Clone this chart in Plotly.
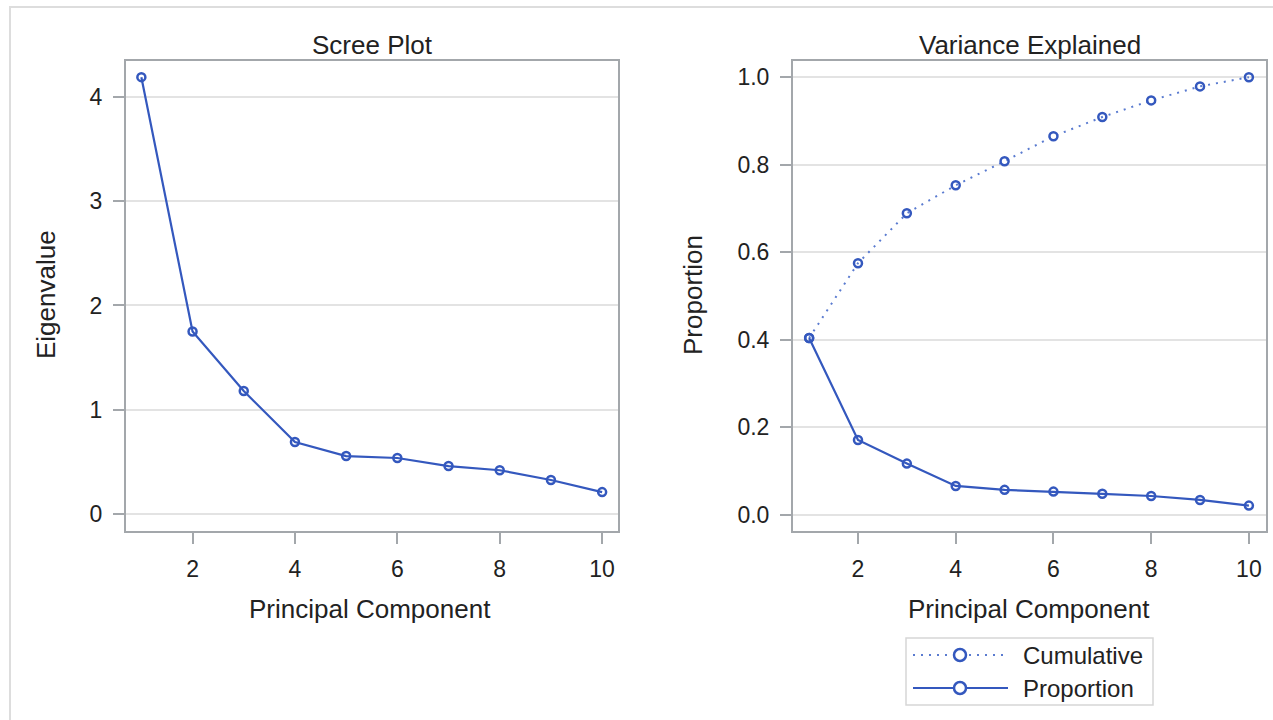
import plotly.graph_objects as go

components = [1, 2, 3, 4, 5, 6, 7, 8, 9, 10]
eigenvalues = [4.19, 1.75, 1.18, 0.69, 0.556, 0.537, 0.46, 0.42, 0.326, 0.21]
proportion = [0.404, 0.171, 0.117, 0.066, 0.057, 0.053, 0.048, 0.043, 0.034, 0.021]
cumulative = [0.404, 0.575, 0.689, 0.753, 0.808, 0.865, 0.909, 0.947, 0.979, 1.0]
x_ticks = [2, 4, 6, 8, 10]
eig_ticks = [0, 1, 2, 3, 4]
prop_ticks = [0.0, 0.2, 0.4, 0.6, 0.8, 1.0]

W, H = 1273, 720
BLUE = "#3458BE"
FRAME = "#A3A7AB"
GRID = "#E3E3E3"
FONT = "Liberation Sans, Arial, sans-serif"
TXT = "#222222"

def px(x):
    return x / W

def py(y):
    return (H - y) / H

fig = go.Figure()

marker = dict(symbol="circle-open", size=8, color=BLUE, line=dict(width=2.5, color=BLUE))

fig.add_trace(go.Scatter(x=components, y=eigenvalues, mode="lines+markers",
                         line=dict(color=BLUE, width=2.2), marker=marker,
                         xaxis="x", yaxis="y", showlegend=False))
fig.add_trace(go.Scatter(x=components, y=cumulative, mode="lines+markers",
                         line=dict(color="#5A7BD0", width=2, dash="2px,6px"), marker=marker,
                         xaxis="x2", yaxis="y2", name="Cumulative", showlegend=False))
fig.add_trace(go.Scatter(x=components, y=proportion, mode="lines+markers",
                         line=dict(color=BLUE, width=2.2), marker=marker,
                         xaxis="x2", yaxis="y2", name="Proportion", showlegend=False))

axis_common = dict(showline=True, mirror=True, linecolor=FRAME, linewidth=2,
                   ticks="outside", ticklen=11, tickwidth=2, tickcolor=FRAME,
                   tickfont=dict(family=FONT, size=23, color=TXT), zeroline=False)

ydom = [py(531), py(61)]
fig.update_layout(
    width=W, height=H,
    margin=dict(l=0, r=0, t=0, b=0),
    paper_bgcolor="white", plot_bgcolor="white",
    showlegend=False,
    xaxis=dict(domain=[px(126), px(618)], range=[0.7, 10.31], tickvals=x_ticks,
               showgrid=False, anchor="y", ticklabelstandoff=5, **axis_common),
    yaxis=dict(domain=ydom, range=[-0.163, 4.345], tickvals=eig_ticks,
               showgrid=True, gridcolor=GRID, gridwidth=1.5, anchor="x",
               ticklabelstandoff=6, **axis_common),
    xaxis2=dict(domain=[px(793), px(1266)], range=[0.67, 10.35], tickvals=x_ticks,
                showgrid=False, anchor="y2", ticklabelstandoff=5, **axis_common),
    yaxis2=dict(domain=ydom, range=[-0.037, 1.037], tickvals=prop_ticks,
                tickformat=".1f", showgrid=True, gridcolor=GRID, gridwidth=1.5,
                anchor="x2", ticklabelstandoff=6, **axis_common),
)

def text(x, y, s, size=26, angle=0, xanchor="center"):
    fig.add_annotation(x=px(x), y=py(y), xref="paper", yref="paper", text=s,
                       showarrow=False, textangle=angle, xanchor=xanchor, yanchor="middle",
                       font=dict(family=FONT, size=size, color=TXT))

text(372, 45, "Scree Plot")
text(1030, 45, "Variance Explained")
text(370, 609, "Principal Component")
text(1029, 609, "Principal Component")
text(46, 295, "Eigenvalue", angle=-90)
text(693, 295, "Proportion", angle=-90)

# outer frame
fig.add_shape(type="rect", xref="paper", yref="paper", x0=px(10), x1=px(1290),
              y0=py(740), y1=py(7), line=dict(color="#DDDDDD", width=2))

# legend
fig.add_shape(type="rect", xref="paper", yref="paper", x0=px(906), x1=px(1153),
              y0=py(705), y1=py(638), line=dict(color="#D6D6D6", width=1.5))
fig.add_shape(type="line", xref="paper", yref="paper", x0=px(913), x1=px(1005),
              y0=py(655), y1=py(655), line=dict(color="#5A7BD0", width=2, dash="2px,6px"))
fig.add_shape(type="line", xref="paper", yref="paper", x0=px(913), x1=px(1008),
              y0=py(688), y1=py(688), line=dict(color=BLUE, width=2.2))
for yy in (655, 688):
    fig.add_shape(type="circle", xref="paper", yref="paper", x0=px(954), x1=px(966),
                  y0=py(yy + 6), y1=py(yy - 6), line=dict(color=BLUE, width=2.5),
                  fillcolor="white")
text(1021, 655, "Cumulative", size=24, xanchor="left")
text(1021, 688, "Proportion", size=24, xanchor="left")

fig.write_html("out.html")
